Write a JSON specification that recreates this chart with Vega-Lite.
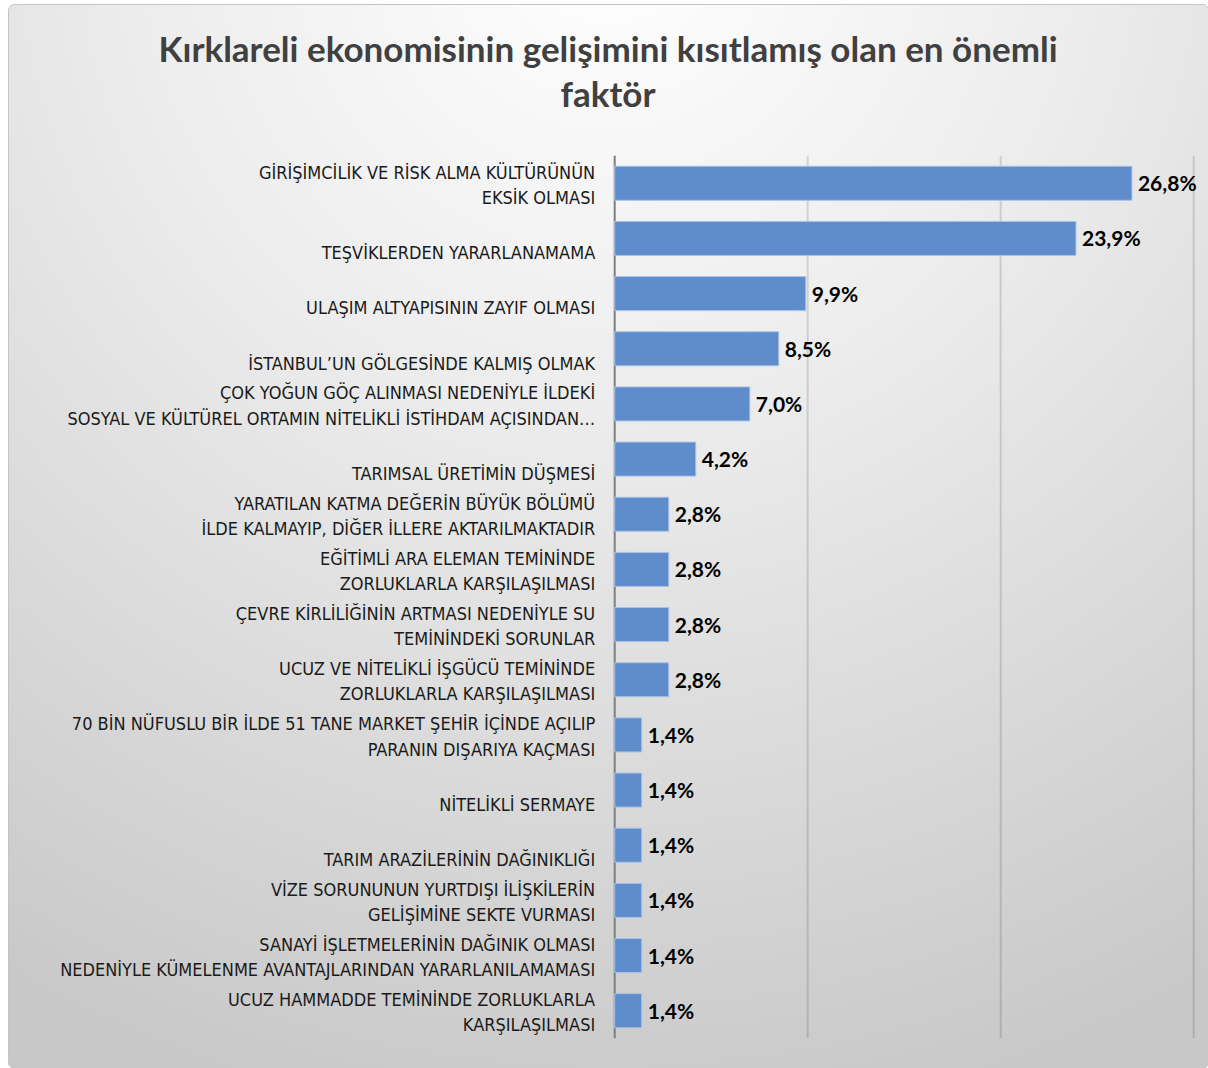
{
  "$schema": "https://vega.github.io/schema/vega-lite/v6.json",
  "width": 1208,
  "height": 1068,
  "autosize": {"type": "fit", "contains": "padding"},
  "padding": {"left": 8, "top": 4, "right": 0, "bottom": 0},
  "background": "#ffffff",
  "title": {
    "text": ["Kırklareli ekonomisinin gelişimini kısıtlamış olan en önemli", "faktör"],
    "font": "Lato",
    "fontSize": 35,
    "fontWeight": "bold",
    "color": "#404040",
    "lineHeight": 45,
    "offset": -110,
    "anchor": "middle"
  },
  "config": {
    "locale": {"number": {"decimal": ",", "thousands": ".", "grouping": [3], "currency": ["", " TL"]}},
    "view": {
      "fill": {
        "gradient": "radial",
        "x1": 0.5, "y1": 0, "r1": 0,
        "x2": 0.5, "y2": 0, "r2": 1,
        "stops": [
          {"offset": 0, "color": "#ffffff"},
          {"offset": 0.4, "color": "#ececec"},
          {"offset": 1, "color": "#c8c8c8"}
        ]
      },
      "stroke": "#c4c4c4",
      "cornerRadius": 6
    }
  },
  "data": {
    "values": [
      {"factor": "GİRİŞİMCİLİK VE RİSK ALMA KÜLTÜRÜNÜN\nEKSİK OLMASI", "value": 0.268},
      {"factor": "\nTEŞVİKLERDEN YARARLANAMAMA", "value": 0.239},
      {"factor": "\nULAŞIM ALTYAPISININ ZAYIF OLMASI", "value": 0.099},
      {"factor": "\nİSTANBUL’UN GÖLGESİNDE KALMIŞ OLMAK", "value": 0.085},
      {"factor": "ÇOK YOĞUN GÖÇ ALINMASI NEDENİYLE İLDEKİ\nSOSYAL VE KÜLTÜREL ORTAMIN NİTELİKLİ İSTİHDAM AÇISINDAN…", "value": 0.070},
      {"factor": "\nTARIMSAL ÜRETİMİN DÜŞMESİ", "value": 0.042},
      {"factor": "YARATILAN KATMA DEĞERİN BÜYÜK BÖLÜMÜ\nİLDE KALMAYIP, DİĞER İLLERE AKTARILMAKTADIR", "value": 0.028},
      {"factor": "EĞİTİMLİ ARA ELEMAN TEMİNİNDE\nZORLUKLARLA KARŞILAŞILMASI", "value": 0.028},
      {"factor": "ÇEVRE KİRLİLİĞİNİN ARTMASI NEDENİYLE SU\nTEMİNİNDEKİ SORUNLAR", "value": 0.028},
      {"factor": "UCUZ VE NİTELİKLİ İŞGÜCÜ TEMİNİNDE\nZORLUKLARLA KARŞILAŞILMASI", "value": 0.028},
      {"factor": "70 BİN NÜFUSLU BİR İLDE 51 TANE MARKET ŞEHİR İÇİNDE AÇILIP\nPARANIN DIŞARIYA KAÇMASI", "value": 0.014},
      {"factor": "\nNİTELİKLİ SERMAYE", "value": 0.014},
      {"factor": "\nTARIM ARAZİLERİNİN DAĞINIKLIĞI", "value": 0.014},
      {"factor": "VİZE SORUNUNUN YURTDIŞI İLİŞKİLERİN\nGELİŞİMİNE SEKTE VURMASI", "value": 0.014},
      {"factor": "SANAYİ İŞLETMELERİNİN DAĞINIK OLMASI \nNEDENİYLE KÜMELENME AVANTAJLARINDAN YARARLANILAMAMASI", "value": 0.014},
      {"factor": "UCUZ HAMMADDE TEMİNİNDE ZORLUKLARLA\nKARŞILAŞILMASI", "value": 0.014}
    ]
  },
  "layer": [
    {
      "data": {"values": [{}]},
      "mark": {"type": "rule", "color": "#000000", "opacity": 0.13, "strokeWidth": 2},
      "encoding": {
        "x": {"datum": 0.1, "type": "quantitative", "scale": {"domain": [-0.31435, 0.30741], "nice": false, "zero": false}, "axis": null},
        "y": {"datum": 0, "type": "quantitative", "scale": {"domain": [-0.03365, 1.17188], "nice": false, "zero": false}, "axis": null},
        "y2": {"datum": 1}
      }
    },
    {
      "data": {"values": [{}]},
      "mark": {"type": "rule", "color": "#000000", "opacity": 0.13, "strokeWidth": 2},
      "encoding": {
        "x": {"datum": 0.2, "type": "quantitative", "scale": {"domain": [-0.31435, 0.30741], "nice": false, "zero": false}, "axis": null},
        "y": {"datum": 0, "type": "quantitative", "scale": {"domain": [-0.03365, 1.17188], "nice": false, "zero": false}, "axis": null},
        "y2": {"datum": 1}
      }
    },
    {
      "data": {"values": [{}]},
      "mark": {"type": "rule", "color": "#000000", "opacity": 0.13, "strokeWidth": 2},
      "encoding": {
        "x": {"datum": 0.3, "type": "quantitative", "scale": {"domain": [-0.31435, 0.30741], "nice": false, "zero": false}, "axis": null},
        "y": {"datum": 0, "type": "quantitative", "scale": {"domain": [-0.03365, 1.17188], "nice": false, "zero": false}, "axis": null},
        "y2": {"datum": 1}
      }
    },
    {
      "data": {"values": [{}]},
      "mark": {"type": "rule", "color": "#7f7f7f", "strokeWidth": 2},
      "encoding": {
        "x": {"datum": 0, "type": "quantitative", "scale": {"domain": [-0.31435, 0.30741], "nice": false, "zero": false}, "axis": null},
        "y": {"datum": 0, "type": "quantitative", "scale": {"domain": [-0.03365, 1.17188], "nice": false, "zero": false}, "axis": null},
        "y2": {"datum": 1}
      }
    },
    {
      "mark": {"type": "bar", "fill": "#5f8ccb", "stroke": "#a9c2e6", "strokeWidth": 1},
      "encoding": {
        "y": {
          "field": "factor", "type": "nominal", "sort": null,
          "scale": {"type": "band", "range": [151.7, 1034.3], "paddingInner": 0.383, "paddingOuter": 0.1915, "align": 0.5, "round": false},
          "axis": {
            "orient": "left", "offset": -606.7, "title": null, "ticks": false, "domain": false, "grid": false,
            "labelPadding": 20, "labelOffset": -9.75, "labelFont": "'DejaVu Sans Condensed', Roboto, sans-serif", "labelFontSize": 18,
            "labelColor": "#1a1a1a", "labelLineHeight": 25.5, "labelLimit": 900,
            "labelExpr": "split(datum.value, '\\n')"
          }
        },
        "x": {"field": "value", "type": "quantitative", "scale": {"domain": [-0.31435, 0.30741], "nice": false, "zero": false}, "axis": null}
      }
    },
    {
      "mark": {"type": "text", "align": "left", "baseline": "middle", "dx": 6, "dy": 2, "font": "Lato", "fontWeight": "bold", "fontSize": 21, "color": "#000000"},
      "encoding": {
        "y": {
          "field": "factor", "type": "nominal", "sort": null,
          "scale": {"type": "band", "range": [151.7, 1034.3], "paddingInner": 0.383, "paddingOuter": 0.1915, "align": 0.5, "round": false},
          "axis": null
        },
        "x": {"field": "value", "type": "quantitative", "scale": {"domain": [-0.31435, 0.30741], "nice": false, "zero": false}, "axis": null},
        "text": {"field": "value", "type": "quantitative", "format": ".1%"}
      }
    }
  ],
  "resolve": {"scale": {"y": "independent"}, "axis": {"y": "independent"}}
}
